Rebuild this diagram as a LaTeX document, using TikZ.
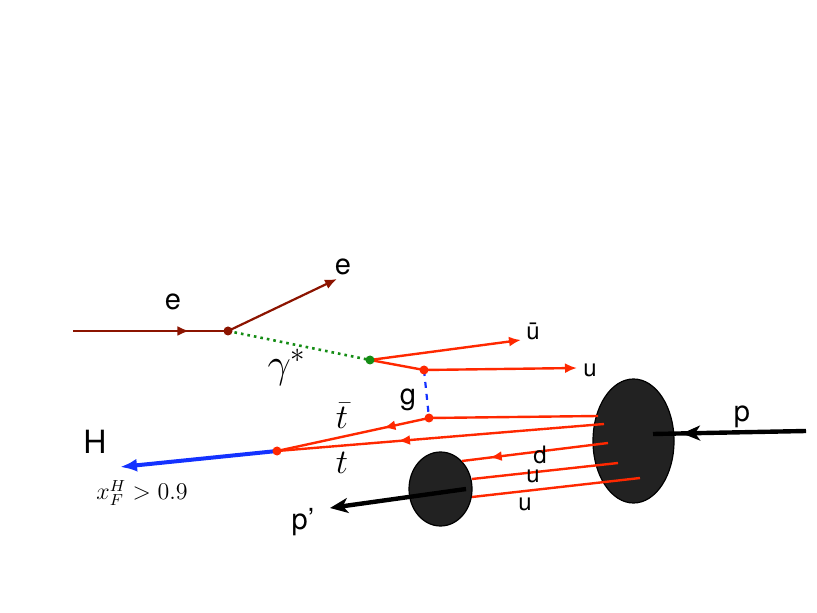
\documentclass[tikz,border=0pt]{standalone}
\usepackage{amsmath}
\usepackage{fontspec}
\setsansfont{TeX Gyre Heros}
\usetikzlibrary{decorations.markings,shapes.geometric,arrows.meta}
\definecolor{edark}{RGB}{140,20,0}
\definecolor{quark}{RGB}{255,40,0}
\definecolor{hblue}{RGB}{20,50,255}
\definecolor{gdot}{RGB}{20,140,20}
\definecolor{blob}{RGB}{34,34,34}
\tikzset{
  tip/.tip={Latex[length=6pt,width=5pt]},
  bigtip/.tip={Stealth[length=9pt,width=7.5pt,inset=2.5pt]},
  midarrow/.style={postaction={decorate,decoration={markings,
      mark=at position #1 with {\arrow{tip}}}}},
  bigmidarrow/.style={postaction={decorate,decoration={markings,
      mark=at position #1 with {\arrow{bigtip}}}}},
  lab/.style={font=\sffamily\fontsize{14.5}{16}\selectfont},
  qlab/.style={font=\sffamily\fontsize{12}{14}\selectfont},
  vtx/.style={circle,fill,inner sep=0pt,minimum size=4.5pt},
  proton/.style={ellipse,draw=black,fill=blob,inner sep=0pt,line width=0.6pt},
}
\begin{document}
\begin{tikzpicture}[x=0.5pt,y=-0.5pt]
\useasboundingbox (0,0) rectangle (817,613);
% vertices
\coordinate (ein) at (73,331);
\coordinate (ev) at (228,331);
\coordinate (eout) at (337,279);
\coordinate (gv) at (370,360);
\coordinate (qv) at (424,370);
\coordinate (tv) at (429,418);
\coordinate (hv) at (277,451);
\coordinate (ubar) at (521,340);
\coordinate (uend) at (577,368);
\coordinate (Hend) at (120,467);
\coordinate (pin) at (806,431);
\coordinate (pout) at (330,508);
% protons
\node[proton,minimum width=40.5pt,minimum height=62pt] (P) at (633.5,441) {};
\node[proton,minimum width=31.5pt,minimum height=37pt] (Pp) at (440.5,489) {};
\coordinate (q1) at (598,416);
\coordinate (q2) at (604,424);
\coordinate (q3) at (608,443);
\coordinate (q4) at (618,463);
\coordinate (q5) at (640,478);
\coordinate (s3) at (462,461);
\coordinate (s4) at (472,479);
\coordinate (s5) at (472,497);
\coordinate (pc) at (653,434);
\coordinate (ppc) at (466,489);
% electron line
\draw[edark,line width=1.1pt,midarrow=0.75] (ein) -- (ev);
\draw[edark,line width=1.1pt,-tip] (ev) -- (eout);
\node[lab] at (173,302) {e};
\node[lab] at (343,267) {e};
% photon
\draw[gdot,line width=1.3pt,dotted] (ev) -- (gv);
\node[font=\fontsize{20}{22}\selectfont] at (287,367) {$\gamma^*$};
% quark pair
\draw[quark,line width=1.2pt,-tip] (gv) -- (ubar);
\draw[quark,line width=1.2pt] (gv) -- (qv);
\draw[quark,line width=1.2pt,-tip] (qv) -- (uend);
\node[qlab] at (533,331) {ū};
\node[qlab] at (590,370) {u};
% gluon
\draw[hblue,line width=1.1pt,dashed] (qv) -- (tv);
\node[lab] at (408,400) {g};
% top pair and H
\draw[quark,line width=1.2pt] (q1) -- (tv);
\draw[quark,line width=1.2pt,midarrow=0.3] (tv) -- (hv);
\draw[quark,line width=1.2pt,midarrow=0.63] (q2) -- (hv);
\node[font=\fontsize{16}{18}\selectfont] at (342,416) {$\bar{t}$};
\node[font=\fontsize{16}{18}\selectfont] at (342,463) {$t$};
\draw[hblue,line width=2pt,-{Latex[length=8.5pt,width=6.5pt]}] (hv) -- (Hend);
\node[font=\sffamily\fontsize{16}{18}\selectfont] at (95,442) {H};
\node[font=\fontsize{11.5}{13}\selectfont] at (142,493) {$x_F^H>0.9$};
% spectators
\draw[quark,line width=1.2pt,midarrow=0.81] (q3) -- (s3);
\draw[quark,line width=1.2pt] (q4) -- (s4);
\draw[quark,line width=1.2pt] (q5) -- (s5);
\node[qlab] at (540,455) {d};
\node[qlab] at (533,476) {u};
\node[qlab] at (525,504) {u};
% beams
\draw[black,line width=2.2pt,bigmidarrow=0.81] (pin) -- (pc);
\draw[black,line width=2.2pt,-bigtip] (ppc) -- (pout);
\node[lab] at (742,417) {p};
\node[lab] at (303,522) {p’};
% vertex dots
\node[vtx,edark] (evdot) at (ev) {};
\node[vtx,gdot] (gvdot) at (gv) {};
\node[vtx,quark] (qvdot) at (qv) {};
\node[vtx,quark] (tvdot) at (tv) {};
\node[vtx,quark] (hvdot) at (hv) {};
\end{tikzpicture}
\end{document}
